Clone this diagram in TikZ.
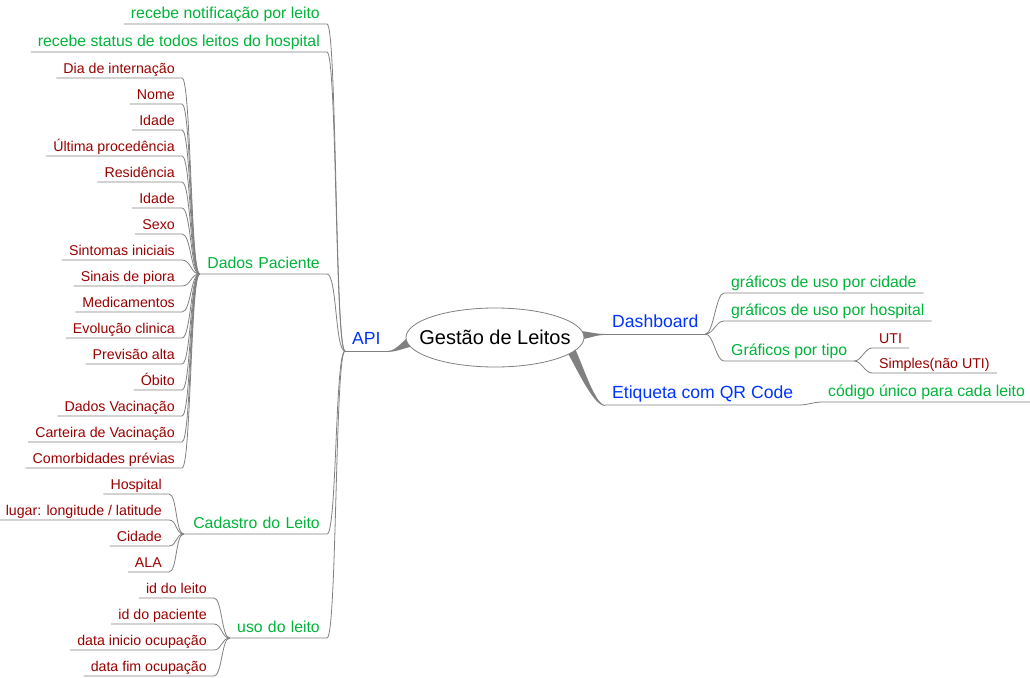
\documentclass[tikz,border=0pt]{standalone}
\usepackage{fontspec}
\setmainfont{Liberation Sans}
\usetikzlibrary{shapes.geometric,backgrounds}
\definecolor{lvlblue}{HTML}{0033FF}
\definecolor{lvlgreen}{HTML}{00B439}
\definecolor{lvlred}{HTML}{990000}
\definecolor{edgegray}{HTML}{808080}

\begin{document}
\begin{tikzpicture}[x=1pt, y=-1pt,
link/.style ={draw=edgegray, line width=0.8pt},
twig/.style ={to path={.. controls +(#1,0) and +(-#1,0) .. (\tikztotarget)}},
taper/.style ={fill=edgegray},
root/.style ={ellipse, draw=edgegray, fill=white, line width=0.8pt,
minimum width=178pt, minimum height=59pt, inner xsep=-13pt, inner ysep=0pt, font=\fontsize{20}{24}\selectfont},
lvl1/.style ={text=lvlblue, inner xsep=7pt, inner ysep=0pt, text depth=6pt, font=\fontsize{17.6}{21}\selectfont},
lvl2/.style ={text=lvlgreen, inner xsep=7pt, inner ysep=0pt, text depth=5pt, font=\fontsize{15.8}{19}\selectfont},
lvl3/.style ={text=lvlred, inner xsep=7pt, inner ysep=0pt, text depth=4.5pt, font=\fontsize{14.2}{17}\selectfont}]
\useasboundingbox (0,0) rectangle (1030,677);

\node[root] (Root) at (495,337.5) {Gestão de Leitos};
\node[lvl1, anchor=south west] (API) at (345,351) {API};
\node[lvl1, anchor=south west] (Dash) at (605,334) {Dashboard};
\node[lvl1, anchor=south west] (QR) at (605,405) {Etiqueta com QR Code};

% API
\node[lvl2, anchor=south east] (Notif) at (327,24) {recebe notificação por leito};
\node[lvl2, anchor=south east] (Status) at (327,52) {recebe status de todos leitos do hospital};
\node[lvl2, anchor=south east, text width=113pt, align=right] (Pac) at (327,274) {Dados Paciente};
\node[lvl2, anchor=south east, text width=129pt, align=right] (Cad) at (327,534) {Cadastro do Leito};
\node[lvl2, anchor=south east, text width=83pt, align=right] (Uso) at (327,638) {uso do leito};

% Dados Paciente
\node[lvl3, anchor=south east] (Dia) at (182,78) {Dia de internação};
\node[lvl3, anchor=south east] (Nome) at (182,104) {Nome};
\node[lvl3, anchor=south east] (Idade1) at (182,130) {Idade};
\node[lvl3, anchor=south east] (Proc) at (182,156) {Última procedência};
\node[lvl3, anchor=south east] (Resid) at (182,182) {Residência};
\node[lvl3, anchor=south east] (Idade2) at (182,208) {Idade};
\node[lvl3, anchor=south east] (Sexo) at (182,234) {Sexo};
\node[lvl3, anchor=south east] (Sint) at (182,260) {Sintomas iniciais};
\node[lvl3, anchor=south east] (Piora) at (182,286) {Sinais de piora};
\node[lvl3, anchor=south east] (Med) at (182,312) {Medicamentos};
\node[lvl3, anchor=south east] (Evol) at (182,338) {Evolução clinica};
\node[lvl3, anchor=south east] (Alta) at (182,364) {Previsão alta};
\node[lvl3, anchor=south east] (Obito) at (182,390) {Óbito};
\node[lvl3, anchor=south east] (Vac) at (182,416) {Dados Vacinação};
\node[lvl3, anchor=south east] (Cart) at (182,442) {Carteira de Vacinação};
\node[lvl3, anchor=south east] (Comorb) at (182,468) {Comorbidades prévias};

% Cadastro do Leito
\node[lvl3, anchor=south east] (Hosp) at (169,494) {Hospital};
\node[lvl3, anchor=south east] (Lugar) at (169,520) {lugar: longitude / latitude};
\node[lvl3, anchor=south east] (Cid) at (169,546) {Cidade};
\node[lvl3, anchor=south east] (Ala) at (169,572) {ALA};

% uso do leito
\node[lvl3, anchor=south east] (IdLeito) at (214,598) {id do leito};
\node[lvl3, anchor=south east] (IdPac) at (214,624) {id do paciente};
\node[lvl3, anchor=south east] (Inicio) at (214,650) {data inicio ocupação};
\node[lvl3, anchor=south east] (Fim) at (214,676) {data fim ocupação};

% Dashboard, Etiqueta
\node[lvl2, anchor=south west] (GCid) at (724,293) {gráficos de uso por cidade};
\node[lvl2, anchor=south west] (GHosp) at (724,321) {gráficos de uso por hospital};
\node[lvl2, anchor=south west] (GTipo) at (724,361) {Gráficos por tipo};
\node[lvl3, anchor=south west] (UTI) at (872,348) {UTI};
\node[lvl3, anchor=south west] (Simp) at (872,373) {Simples(não UTI)};
\node[lvl2, anchor=south west] (Cod) at (821,402) {código único para cada leito};

\begin{scope}[on background layer]
\fill[taper] (API.south east) .. controls +(10,0) and +(-8,0) .. ([xshift=8pt,yshift=2pt]Root.west)
  -- ([xshift=8pt,yshift=-9pt]Root.west) .. controls +(-6,0) and +(10,0) .. ([yshift=-0.9pt]API.south east) -- cycle;
\fill[taper] (Dash.south west) .. controls +(-10,0) and +(8,0) .. ([xshift=-6pt,yshift=6.5pt]Root.east)
  -- ([xshift=-6pt,yshift=-2pt]Root.east) .. controls +(8,0) and +(-10,0) .. ([yshift=-0.9pt]Dash.south west) -- cycle;
\fill[taper] (QR.south west) .. controls +(-10,0) and +(8,16) .. ([xshift=79pt,yshift=-9pt]Root.center)
  -- ([xshift=69pt,yshift=-9pt]Root.center) .. controls +(12,20) and +(-12,0) .. ([yshift=-0.9pt]QR.south west) -- cycle;
\end{scope}

\draw[link] (API.south west) -- (API.south east);
\draw[link] (Dash.south west) -- (Dash.south east);
\draw[link] (Notif.south west) -- (Notif.south east) to[twig=10] (API.south west);
\draw[link] (Status.south west) -- (Status.south east) to[twig=10] (API.south west);
\draw[link] (Pac.south west) -- (Pac.south east) to[twig=10] (API.south west);
\draw[link] (Cad.south west) -- (Cad.south east) to[twig=10] (API.south west);
\draw[link] (Uso.south west) -- (Uso.south east) to[twig=10] (API.south west);

\draw[link] (Dia.south west) -- (Dia.south east) to[twig=9] (Pac.south west);
\draw[link] (Nome.south west) -- (Nome.south east) to[twig=9] (Pac.south west);
\draw[link] (Idade1.south west) -- (Idade1.south east) to[twig=9] (Pac.south west);
\draw[link] (Proc.south west) -- (Proc.south east) to[twig=9] (Pac.south west);
\draw[link] (Resid.south west) -- (Resid.south east) to[twig=9] (Pac.south west);
\draw[link] (Idade2.south west) -- (Idade2.south east) to[twig=9] (Pac.south west);
\draw[link] (Sexo.south west) -- (Sexo.south east) to[twig=9] (Pac.south west);
\draw[link] (Sint.south west) -- (Sint.south east) to[twig=9] (Pac.south west);
\draw[link] (Piora.south west) -- (Piora.south east) to[twig=9] (Pac.south west);
\draw[link] (Med.south west) -- (Med.south east) to[twig=9] (Pac.south west);
\draw[link] (Evol.south west) -- (Evol.south east) to[twig=9] (Pac.south west);
\draw[link] (Alta.south west) -- (Alta.south east) to[twig=9] (Pac.south west);
\draw[link] (Obito.south west) -- (Obito.south east) to[twig=9] (Pac.south west);
\draw[link] (Vac.south west) -- (Vac.south east) to[twig=9] (Pac.south west);
\draw[link] (Cart.south west) -- (Cart.south east) to[twig=9] (Pac.south west);
\draw[link] (Comorb.south west) -- (Comorb.south east) to[twig=9] (Pac.south west);

\draw[link] (Hosp.south west) -- (Hosp.south east) to[twig=8] (Cad.south west);
\draw[link] (Lugar.south west) -- (Lugar.south east) to[twig=8] (Cad.south west);
\draw[link] (Cid.south west) -- (Cid.south east) to[twig=8] (Cad.south west);
\draw[link] (Ala.south west) -- (Ala.south east) to[twig=8] (Cad.south west);

\draw[link] (IdLeito.south west) -- (IdLeito.south east) to[twig=8] (Uso.south west);
\draw[link] (IdPac.south west) -- (IdPac.south east) to[twig=8] (Uso.south west);
\draw[link] (Inicio.south west) -- (Inicio.south east) to[twig=8] (Uso.south west);
\draw[link] (Fim.south west) -- (Fim.south east) to[twig=8] (Uso.south west);

\draw[link] (Dash.south east) to[twig=8] (GCid.south west) -- (GCid.south east);
\draw[link] (Dash.south east) to[twig=8] (GHosp.south west) -- (GHosp.south east);
\draw[link] (Dash.south east) to[twig=8] (GTipo.south west) -- (GTipo.south east);
\draw[link] (GTipo.south east) to[twig=7] (UTI.south west) -- (UTI.south east);
\draw[link] (GTipo.south east) to[twig=7] (Simp.south west) -- (Simp.south east);
\draw[link] (QR.south west) -- (QR.south east) to[twig=6] (Cod.south west) -- (Cod.south east);
\end{tikzpicture}
\end{document}
